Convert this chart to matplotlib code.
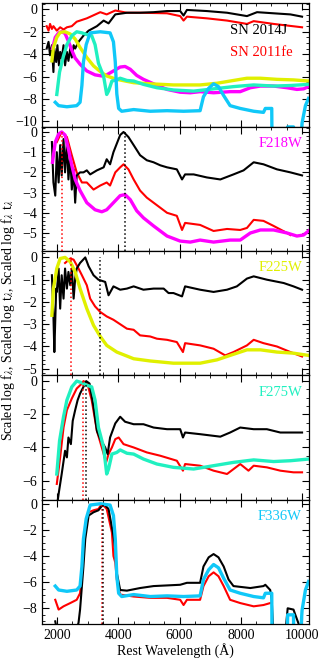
import matplotlib
matplotlib.use("Agg")
import matplotlib.pyplot as plt
import numpy as np
from matplotlib.ticker import MultipleLocator, AutoMinorLocator

# ---- panel 1: full spectra + filter curves ----
wl_14j_full = [1660, 1720, 1770, 1830, 1880, 1910, 1970, 2010, 2060, 2100, 2150, 2210, 2260, 2320,
               2370, 2430, 2480, 2540, 2590, 2700, 2860, 3030, 3300, 3520, 3680, 3900, 4280, 4710,
               5150, 5590, 6020, 6130, 6240, 6890, 7550, 8200, 8530, 9070, 9620, 10000]
fl_14j_full = [-3.5, -2.9, -4.1, -3.2, -5.6, -3.5, -4.7, -3.2, -5.0, -3.8, -4.4, -3.2, -5.0, -3.8,
               -4.6, -3.5, -4.3, -3.2, -3.5, -2.9, -2.35, -1.9, -1.5, -1.0, -1.25, -0.45, -0.3, -0.3,
               -0.25, -0.15, -0.15, -0.55, -0.05, -0.15, -0.3, -0.6, -0.25, -0.35, -0.45, -0.65]

wl_11fe_full = [1660, 1720, 1770, 1830, 1880, 1990, 2100, 2210, 2320, 2480, 2640, 2970, 3410, 3620,
                3900, 4280, 4710, 5590, 6020, 6130, 6240, 6890, 7550, 8200, 8420, 9070, 10000]
fl_11fe_full = [-1.5, -1.9, -1.3, -1.75, -1.5, -1.9, -1.6, -1.8, -1.6, -1.5, -1.1, -0.8, -0.25, -0.45,
                -0.1, -0.3, -0.3, -0.35, -0.6, -1.0, -0.65, -0.8, -1.0, -1.3, -1.05, -1.3, -1.6]

# filter throughputs (log, peak = 0); shown shifted in the top panel
filter_offset = -2.0

wl_f218w = [1850, 1940, 2050, 2150, 2260, 2370, 2480, 2590, 2750, 2970, 3240, 3460, 3620, 3840,
            4060, 4220, 4390, 4600, 4820, 5150, 5590, 6020, 6350, 6670, 7110, 7650, 7980, 8310,
            8640, 9070, 9510, 9830, 10050, 10210]
t_f218w = [-1.5, -0.5, -0.1, 0.0, -0.15, -0.85, -1.65, -2.35, -2.9, -3.5, -3.85, -3.95, -3.85, -3.5,
           -3.15, -3.1, -3.35, -3.9, -4.25, -4.65, -5.15, -5.4, -5.45, -5.35, -5.45, -5.35, -5.35, -5.0,
           -4.85, -4.85, -5.0, -5.15, -5.1, -4.9]

wl_f225w = [1830, 1880, 1990, 2100, 2260, 2430, 2590, 2750, 2970, 3190, 3410, 3620, 3950, 4500,
            5040, 5800, 6670, 7220, 7760, 8200, 8640, 9180, 9720, 10210]
t_f225w = [-2.6, -1.4, -0.5, -0.05, 0.0, -0.2, -0.65, -1.4, -2.3, -3.05, -3.55, -3.95, -4.25, -4.55,
           -4.65, -4.75, -4.75, -4.6, -4.35, -4.15, -4.15, -4.25, -4.3, -4.4]

wl_f275w = [1990, 2080, 2210, 2320, 2480, 2640, 2810, 2970, 3130, 3240, 3350, 3520, 3620, 3680,
            3790, 3950, 4060, 4280, 4500, 4820, 5260, 5800, 6460, 7110, 7760, 8420, 9070, 9620, 10210]
t_f275w = [-5.6, -3.6, -2.15, -1.15, -0.35, 0.0, -0.1, -0.25, -0.35, -1.15, -2.8, -4.0, -5.6, -5.3,
           -4.4, -4.3, -4.15, -4.35, -4.4, -4.7, -5.0, -5.2, -5.3, -5.1, -4.9, -4.75, -4.85, -4.8, -4.7]

wl_f336w = [1940, 2050, 2320, 2640, 2750, 2810, 2860, 2950, 3080, 3410, 3730, 3840, 3900, 3950,
            4010, 4110, 4500, 5040, 5590, 6130, 6670, 6780, 6950, 7110, 7270, 7440, 7650, 7980,
            8420, 8740, 8800, 9010, 9020, 9510, 9530, 9720, 9730, 9940, 10000, 10110, 10210]
t_f336w = [-6.3, -6.6, -6.7, -6.6, -6.3, -4.8, -2.7, -1.15, -0.1, 0.0, -0.1, -0.9, -2.7, -5.55,
           -6.85, -7.1, -6.95, -7.1, -7.05, -7.1, -7.05, -5.8, -5.05, -4.65, -4.9, -5.7, -6.6, -6.85,
           -7.1, -7.2, -6.85, -6.85, -10.5, -10.5, -8.5, -8.5, -10.5, -10.5, -8.15, -6.6, -5.95]

# ---- panel 2: F218W ----
wl_p2_14j = [1830, 1880, 1940, 1990, 2050, 2100, 2150, 2210, 2260, 2320, 2370, 2430, 2480, 2540,
             2590, 2640, 2750, 2860, 2970, 3080, 3300, 3520, 3620, 3730, 3840, 4060, 4170, 4330,
             4500, 4710, 4930, 5150, 5370, 5590, 5910, 6080, 6180, 6460, 6890, 7330, 7760, 8090,
             8420, 8740, 9180, 9620, 10000]
fl_p2_14j = [-0.5, -2.5, -3.15, -1.0, -2.5, -0.65, -2.15, -0.35, -2.0, -0.5, -2.35, -1.15, -2.85, -1.85,
             -3.5, -2.15, -2.0, -2.0, -1.9, -2.1, -1.9, -1.75, -1.35, -1.6, -1.0, -0.15, 0.0, -0.25,
             -0.65, -1.15, -1.4, -1.5, -1.65, -1.75, -1.85, -2.35, -2.1, -2.1, -2.25, -2.35, -2.1, -1.9,
             -1.5, -1.6, -1.85, -2.0, -2.15]
wl_p2_11fe = [1990, 2150, 2320, 2480, 2640, 2810, 2970, 3190, 3410, 3620, 3730, 3900, 4060, 4170,
              4330, 4500, 4710, 4930, 5150, 5370, 5590, 5910, 6080, 6180, 6670, 7110, 7550, 7980,
              8200, 8420, 8740, 9070, 9510, 9620]
fl_p2_11fe = [-0.5, 0.0, -0.25, -1.15, -2.0, -2.5, -2.5, -2.85, -2.65, -2.5, -2.65, -2.0, -1.75, -1.6,
              -1.85, -2.35, -2.9, -3.25, -3.5, -3.75, -4.0, -4.15, -4.85, -4.5, -4.6, -4.9, -4.8, -4.85,
              -4.75, -4.35, -4.4, -4.65, -5.0, -5.1]

# ---- panel 3: F225W ----
wl_p3_14j = [1830, 1880, 1910, 1970, 1990, 2050, 2100, 2150, 2210, 2260, 2320, 2370, 2430, 2480,
             2540, 2590, 2640, 2750, 2920, 3030, 3190, 3350, 3570, 3680, 3840, 4060, 4280, 4500,
             4820, 5150, 5480, 5640, 5800, 6080, 6180, 6670, 7110, 7550, 7870, 8200, 8420, 8850,
             9400, 9720, 10000]
fl_p3_14j = [-0.8, -2.6, -4.25, -1.4, -1.55, -0.5, -2.3, -0.8, -1.85, -0.5, -1.4, -0.65, -1.25, -0.5,
             -1.85, -0.95, -0.5, -0.25, 0.0, -0.4, -0.8, -1.0, -1.1, -1.7, -1.3, -1.45, -1.4, -1.3,
             -1.45, -1.4, -1.4, -1.6, -1.6, -1.75, -1.3, -1.45, -1.55, -1.45, -1.3, -0.95, -0.85, -1.0,
             -1.15, -1.3, -1.45]
wl_p3_11fe = [2260, 2430, 2540, 2700, 2810, 2970, 3080, 3240, 3410, 3620, 3840, 4060, 4280, 4500,
              4710, 5040, 5260, 5590, 5910, 6110, 6180, 6670, 7110, 7490, 7760, 8200, 8420, 8740,
              9180, 9620, 10000]
fl_p3_11fe = [-0.25, -0.05, -0.1, -0.5, -0.8, -1.25, -1.85, -2.2, -2.45, -2.65, -2.8, -3.0, -3.2, -3.25,
              -3.5, -3.55, -3.65, -3.7, -3.8, -4.25, -3.85, -3.95, -4.1, -4.4, -4.25, -3.95, -3.7, -3.85,
              -4.0, -4.25, -4.45]

# ---- panel 4: F275W ----
wl_p4_14j = [1990, 2050, 2150, 2260, 2320, 2370, 2450, 2510, 2590, 2670, 2750, 2860, 2950, 3060,
             3190, 3300, 3410, 3570, 3650, 3730, 3900, 4060, 4220, 4500, 4820, 5150, 5590, 6020,
             6110, 6180, 6670, 7330, 7650, 7980, 8420, 8850, 9290, 9720, 10000]
fl_p4_14j = [-7.6, -6.8, -5.6, -4.2, -4.6, -3.4, -3.8, -2.4, -1.75, -1.15, -0.75, -0.35, 0.0, -0.15,
             -1.55, -3.0, -3.5, -4.0, -4.4, -3.4, -2.55, -2.15, -2.45, -2.6, -2.6, -2.8, -2.9, -2.9,
             -3.4, -3.1, -3.2, -3.35, -3.1, -2.8, -2.9, -2.9, -3.1, -3.1, -3.1]
wl_p4_11fe = [1990, 2100, 2210, 2320, 2480, 2640, 2810, 2860, 2990, 3130, 3300, 3460, 3600, 3680,
              3790, 3900, 4010, 4170, 4500, 4930, 5370, 5910, 6110, 6180, 6670, 7110, 7550, 7980,
              8250, 8420, 8850, 9290, 9720, 10000]
fl_p4_11fe = [-6.2, -4.6, -2.8, -1.75, -1.05, -0.45, -0.15, 0.0, -0.15, -1.15, -3.0, -4.0, -4.9, -4.4,
              -4.0, -3.5, -3.4, -3.8, -4.0, -4.3, -4.5, -4.8, -5.4, -5.0, -5.1, -5.4, -5.6, -5.0,
              -5.4, -5.1, -5.2, -5.4, -5.5, -5.5]

# ---- panel 5: F336W ----
wl_p5_14j = [1940, 1990, 2640, 2700, 2750, 2860, 2920, 3030, 3190, 3350, 3520, 3680, 3840, 3900,
             3950, 4060, 4280, 4710, 5150, 5590, 6020, 6240, 6670, 6780, 6950, 7110, 7270, 7440,
             7600, 7760, 8310, 8740, 8800, 8960, 9010, 9060, 9450, 9530, 9720, 9780, 9890, 9950]
fl_p5_14j = [-9.0, -9.6, -9.6, -9.1, -8.1, -4.8, -2.7, -0.9, -0.65, -0.5, 0.0, -0.4, -2.45, -3.5,
             -5.3, -6.6, -6.65, -6.45, -6.3, -6.25, -6.2, -6.05, -6.05, -4.8, -4.1, -3.85, -4.1, -4.8,
             -5.8, -6.3, -6.45, -6.3, -6.2, -6.6, -7.35, -10.0, -10.0, -8.0, -8.1, -8.5, -9.2, -10.0]
wl_p5_11fe = [1940, 2050, 2210, 2430, 2640, 2750, 2810, 2920, 3030, 3190, 3350, 3460, 3620, 3790,
              3840, 3900, 3950, 4060, 4500, 5040, 5590, 6020, 6130, 6240, 6670, 6780, 6950, 7110,
              7270, 7440, 7650, 7980, 8420, 8740, 8960]
fl_p5_11fe = [-7.35, -8.1, -7.85, -7.6, -7.35, -6.85, -5.3, -2.2, -0.65, -0.5, -0.4, 0.0, -0.4, -2.2,
              -4.0, -4.5, -5.8, -6.95, -7.1, -7.2, -7.2, -7.35, -7.75, -7.35, -7.35, -6.3, -5.55, -5.25,
              -5.55, -6.3, -7.35, -7.6, -7.85, -7.75, -7.6]

# effective wavelengths (dotted markers): (2011fe, 2014J)
lam_eff = {
    "F218W": (2150, 4220),
    "F225W": (2450, 3410),
    "F275W": (2860, 2950),
    "F336W": (3460, 3515),
}

filter_names = ["F218W", "F225W", "F275W", "F336W"]
filter_colors = ["#ff00ff", "#e0f000", "#20f0c0", "#10c8f8"]
ylims = [(-10.5, 0.6), (-5.9, 0.25), (-5.3, 0.28), (-7.15, 0.34), (-9.2, 0.31)]
ymajor = [2, 1, 1, 2, 2]


def style_axis(ax, ylim, major):
    ax.set_xlim(1500, 10230)
    ax.set_ylim(*ylim)
    ax.xaxis.set_major_locator(MultipleLocator(2000))
    ax.xaxis.set_minor_locator(MultipleLocator(500))
    ax.yaxis.set_major_locator(MultipleLocator(major))
    ax.yaxis.set_minor_locator(AutoMinorLocator())
    ax.tick_params(which="both", direction="in", top=True, right=True, labelsize=10)
    ax.tick_params(which="major", length=5, width=0.8)
    ax.tick_params(which="minor", length=2.5, width=0.6)


def main():
    plt.rcParams["font.family"] = ["Liberation Serif", "DejaVu Serif"]
    plt.rcParams["mathtext.fontset"] = "stix"
    plt.rcParams["axes.linewidth"] = 0.9

    fig, axes = plt.subplots(5, 1, figsize=(3.19, 6.65), dpi=100, sharex=True)
    fig.subplots_adjust(left=0.131, right=0.969, top=0.996, bottom=0.0617, hspace=0)

    filt_wl = [wl_f218w, wl_f225w, wl_f275w, wl_f336w]
    filt_t = [t_f218w, t_f225w, t_f275w, t_f336w]

    # top panel
    ax = axes[0]
    ax.plot(wl_11fe_full, fl_11fe_full, color="red", lw=1.5)
    ax.plot(wl_14j_full, fl_14j_full, color="black", lw=1.5)
    for wl, t, c in zip(filt_wl, filt_t, filter_colors):
        ax.plot(wl, np.array(t) + filter_offset, color=c, lw=2.4)
    ax.text(0.704, 0.775, "SN 2014J", color="black", fontsize=10.5,
            transform=ax.transAxes, ha="left", va="center")
    ax.text(0.704, 0.598, "SN 2011fe", color="red", fontsize=10.5,
            transform=ax.transAxes, ha="left", va="center")
    style_axis(ax, ylims[0], ymajor[0])

    spectra = [
        (wl_p2_11fe, fl_p2_11fe, wl_p2_14j, fl_p2_14j),
        (wl_p3_11fe, fl_p3_11fe, wl_p3_14j, fl_p3_14j),
        (wl_p4_11fe, fl_p4_11fe, wl_p4_14j, fl_p4_14j),
        (wl_p5_11fe, fl_p5_11fe, wl_p5_14j, fl_p5_14j),
    ]
    for i, name in enumerate(filter_names):
        ax = axes[i + 1]
        w_fe, f_fe, w_j, f_j = spectra[i]
        ymin = ylims[i + 1][0]
        ax.plot(w_fe, f_fe, color="red", lw=1.5)
        ax.plot(w_j, f_j, color="black", lw=1.5)
        ax.plot(filt_wl[i], filt_t[i], color=filter_colors[i], lw=2.4)
        lam_fe, lam_j = lam_eff[name]
        ax.plot([lam_fe, lam_fe], [ymin, 0], color="red", ls=":", lw=1.1)
        ax.plot([lam_j, lam_j], [ymin, 0], color="black", ls=":", lw=1.1)
        ax.text(0.973, 0.865, name, color=filter_colors[i], fontsize=10.5,
                transform=ax.transAxes, ha="right", va="center")
        style_axis(ax, ylims[i + 1], ymajor[i + 1])

    axes[-1].set_xlabel("Rest Wavelength (Å)", fontsize=10, labelpad=1)
    fig.text(0.025, 0.519,
             r"Scaled log f$_\lambda$, Scaled log t$_\lambda$, Scaled log f$_\lambda$ t$_\lambda$",
             rotation=90, ha="center", va="center", fontsize=10)

    fig.savefig("out.png", dpi=100)


if __name__ == "__main__":
    main()
